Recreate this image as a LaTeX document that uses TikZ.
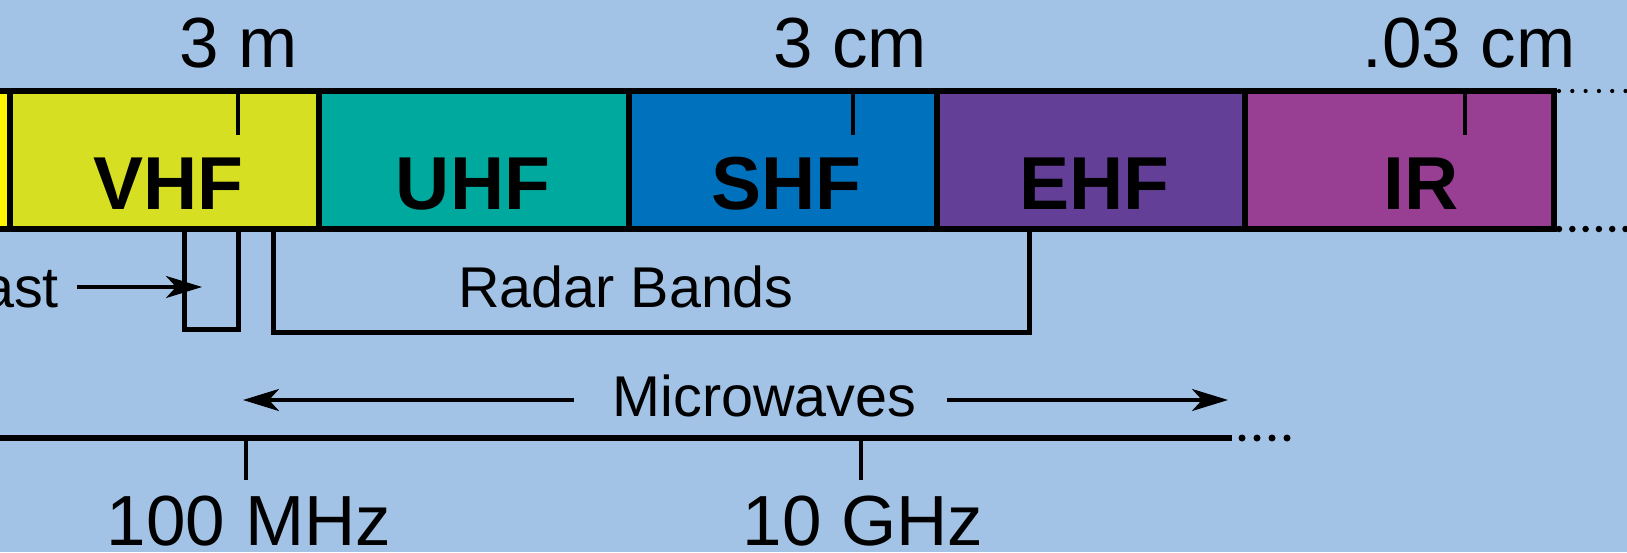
\documentclass[tikz,border=0pt]{standalone}
\usepackage{fontspec}
\setmainfont{Liberation Sans}
\usetikzlibrary{arrows.meta}
\definecolor{bg}{HTML}{A3C3E6}
\definecolor{ylw}{HTML}{FFF200}
\definecolor{vhfc}{HTML}{D7DF23}
\definecolor{uhfc}{HTML}{00A99D}
\definecolor{shfc}{HTML}{0071BC}
\definecolor{ehfc}{HTML}{643F97}
\definecolor{irc}{HTML}{983F93}
\begin{document}
\begin{tikzpicture}[x=1pt,y=-1pt,
  band/.style={draw=black,line width=6pt,inner sep=0pt,minimum height=138pt,anchor=west},
  bandlabel/.style={font=\fontsize{75}{80}\selectfont\bfseries,anchor=base,inner sep=0pt},
  biglabel/.style={font=\fontsize{71}{80}\selectfont,anchor=base,inner sep=0pt},
  midlabel/.style={font=\fontsize{57.5}{64}\selectfont,anchor=base,inner sep=0pt},
  tickline/.style={line width=4.5pt},
  bracket/.style={line width=5pt},
  arr/.style={line width=3.5pt,-{Stealth[length=36pt,width=22pt,inset=10pt]}},
  smalldots/.style={line width=4.2pt,line cap=round,dash pattern=on 0pt off 13.3pt},
  bigdots/.style={line width=6.5pt,line cap=round,dash pattern=on 0pt off 13.3pt},
  axisdots/.style={line width=7pt,line cap=round,dash pattern=on 0pt off 15pt}]
\fill[bg] (0,0) rectangle (1627,552);
\useasboundingbox (0,0) rectangle (1627,552);

% bands
\node[band,fill=ylw,minimum width=40pt] (elf) at (-33.5,160) {};
\node[band,fill=vhfc,minimum width=309.5pt] (vhf) at (6.5,160) {};
\node[band,fill=uhfc,minimum width=310pt] (uhf) at (316,160) {};
\node[band,fill=shfc,minimum width=308pt] (shf) at (626,160) {};
\node[band,fill=ehfc,minimum width=308pt] (ehf) at (934,160) {};
\node[band,fill=irc,minimum width=309pt] (ir) at (1242,160) {};

% band labels
\node[bandlabel] (tvhf) at (168,209) {VHF};
\node[bandlabel] (tuhf) at (473,209) {UHF};
\node[bandlabel] (tshf) at (786,209) {SHF};
\node[bandlabel] (tehf) at (1094,209) {EHF};
\node[bandlabel] (tir) at (1421,209) {IR};

% top ticks and wavelength labels
\draw[tickline] (238,91) -- (238,135);
\draw[tickline] (853,91) -- (853,135);
\draw[tickline] (1465,91) -- (1465,135);
\node[biglabel] (w1) at (239,67) {3 m};
\node[biglabel] (w2) at (850,67) {3 cm};
\node[biglabel] (w3) at (1469,67) {.03 cm};

% dotted continuation
\draw[smalldots] (1559,91) -- (1640,91);
\draw[bigdots] (1559,229) -- (1640,229);

% broadcast bracket and arrow
\draw[bracket] (184.5,229) -- (184.5,329.5) -- (238.5,329.5) -- (238.5,229);
\node[midlabel,anchor=base east] (bc) at (59,307) {ast};
\coordinate (bcs) at (77,287);
\coordinate (bce) at (202,287);
\draw[arr] (bcs) -- (bce);

% radar bracket
\draw[bracket] (273.5,229) -- (273.5,332) -- (1029.5,332) -- (1029.5,226);
\node[midlabel] (radar) at (626,307) {Radar Bands};

% microwaves
\node[midlabel] (mw) at (764.5,416) {Microwaves};
\coordinate (mwls) at (574,400);
\coordinate (mwle) at (243,400);
\coordinate (mwrs) at (947,400);
\coordinate (mwre) at (1228,400);
\draw[arr] (mwls) -- (mwle);
\draw[arr] (mwrs) -- (mwre);

% frequency axis
\draw[line width=6.5pt] (-5,438) -- (1232,438);
\draw[axisdots] (1242,438) -- (1295,438);
\draw[tickline] (246,438) -- (246,480);
\draw[tickline] (861,438) -- (861,480);
\node[biglabel] (f1) at (249,545) {100 MHz};
\node[biglabel] (f2) at (863,545) {10 GHz};
\end{tikzpicture}
\end{document}
